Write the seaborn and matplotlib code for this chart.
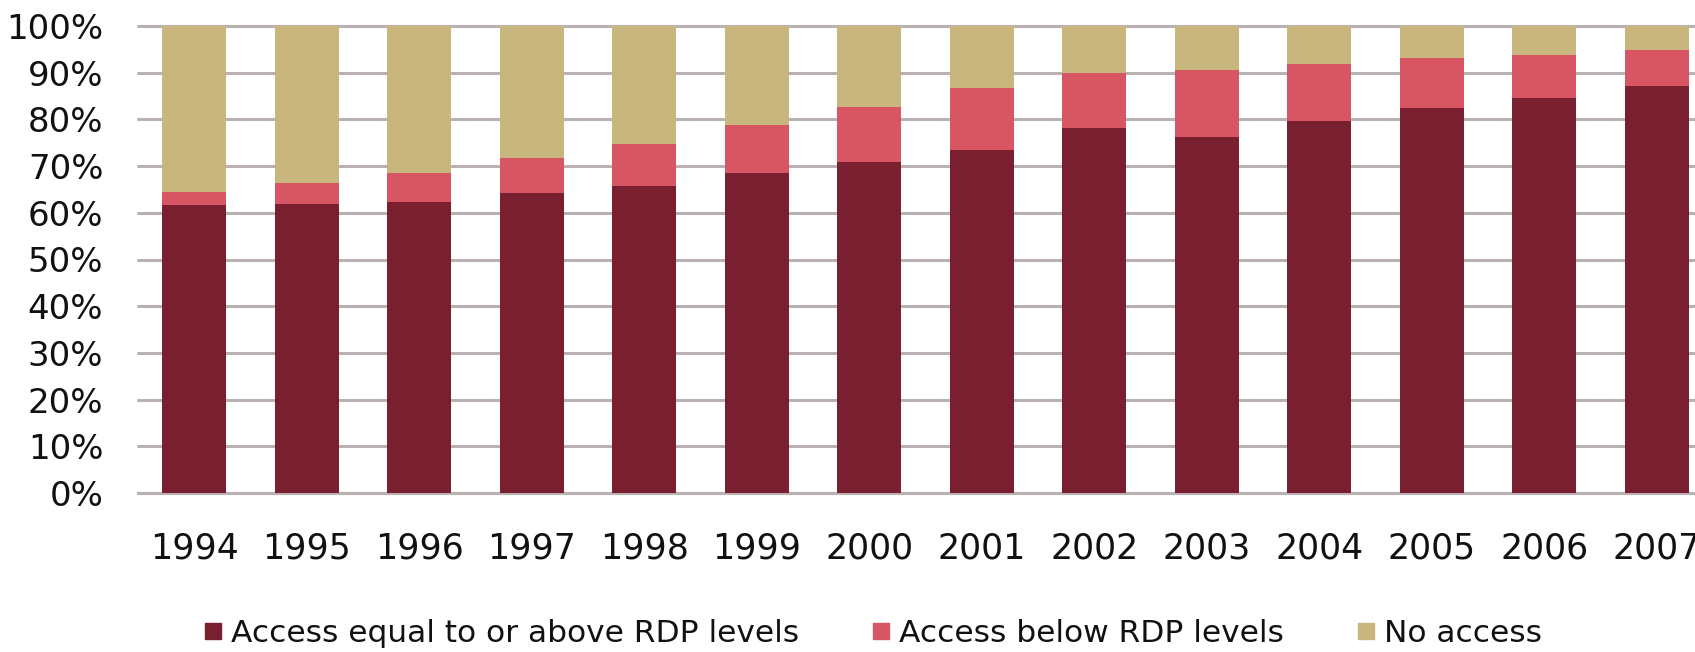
import matplotlib
matplotlib.use("Agg")
import matplotlib.pyplot as plt
from matplotlib.lines import Line2D
import numpy as np
import pandas as pd
import seaborn as sns

years = ["1994", "1995", "1996", "1997", "1998", "1999", "2000",
         "2001", "2002", "2003", "2004", "2005", "2006", "2007"]
above_rdp = [61.7, 61.8, 62.4, 64.2, 65.7, 68.6, 70.8,
             73.4, 78.2, 76.2, 79.7, 82.5, 84.5, 87.1]
below_rdp = [2.7, 4.5, 6.2, 7.5, 9.1, 10.3, 11.9,
             13.3, 11.7, 14.4, 12.1, 10.7, 9.3, 7.7]
no_access = [100 - a - b for a, b in zip(above_rdp, below_rdp)]

series_names = ["Access equal to or above RDP levels",
                "Access below RDP levels",
                "No access"]
colors = ["#7a1f30", "#d85664", "#c8b67e"]

df = pd.DataFrame({
    "year": years,
    "above": np.array(above_rdp) / 100,
    "below": np.array(below_rdp) / 100,
    "none": np.array(no_access) / 100,
})
df["cum_below"] = df["above"] + df["below"]
df["cum_none"] = df["cum_below"] + df["none"]

sns.set_theme(style="white")
plt.rcParams["font.family"] = ["DejaVu Sans"]
plt.rcParams["text.color"] = "#111111"

W, H = 1695, 652
fig = plt.figure(figsize=(W / 100, H / 100), dpi=100)
ax = fig.add_axes([138 / W, 1 - 493 / H, 1 - 138 / W, (493 - 26) / H])

# stacked bars: draw cumulative totals back to front
bar_w = 0.57
for col, color in zip(["cum_none", "cum_below", "above"], colors[::-1]):
    sns.barplot(data=df, x="year", y=col, color=color, width=bar_w,
                saturation=1, linewidth=0, edgecolor=color, ax=ax, zorder=3)

ax.set_xlim(-0.5, 13.34)
ax.set_ylim(0, 1.0)
ticks = np.arange(0, 1.01, 0.1)
ax.set_yticks(ticks)
ax.set_yticklabels([f"{int(round(v * 100))}%" for v in ticks])
ax.yaxis.grid(True, color="#bab2b2", linewidth=2.2)
for gl in ax.get_ygridlines():
    gl.set_clip_on(False)
ax.set_axisbelow(True)

for side in ["left", "right", "top"]:
    ax.spines[side].set_visible(False)
ax.spines["bottom"].set_color("#bab2b2")
ax.spines["bottom"].set_linewidth(2.2)

ax.tick_params(axis="y", length=0, pad=25, labelsize=24.5, labelcolor="#111111")
ax.tick_params(axis="x", length=0, pad=28, labelsize=25, labelcolor="#111111")
ax.set_xlabel("")
ax.set_ylabel("")

handles = [Line2D([], [], marker="s", linestyle="none", markersize=11,
                  markerfacecolor=c, markeredgecolor=c) for c in colors]
fig.legend(handles, series_names, loc="center", ncol=3,
           bbox_to_anchor=(0.514, 0.028), frameon=False, fontsize=22.5,
           handletextpad=0.2, columnspacing=2.2, handlelength=0.8,
           labelcolor="#111111")

fig.savefig("out.png", dpi=100)
